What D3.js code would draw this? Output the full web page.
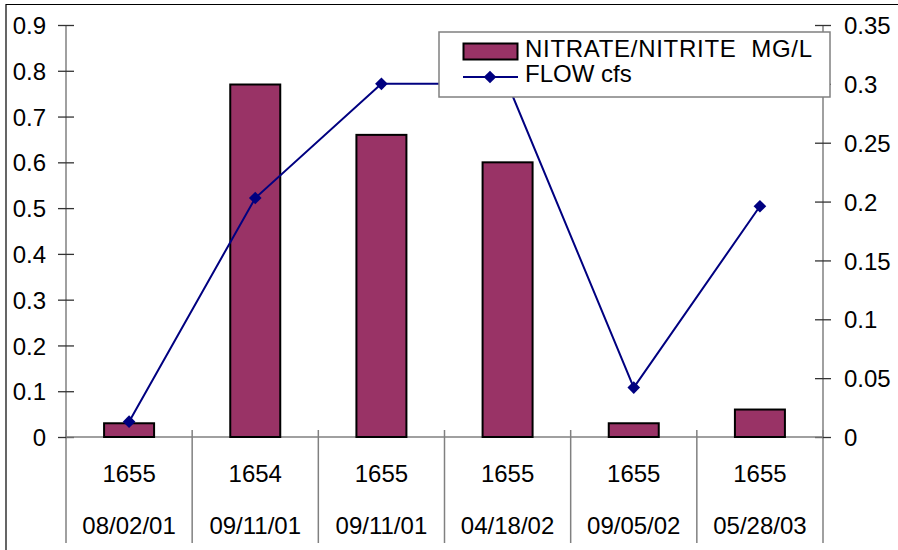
<!DOCTYPE html>
<html><head><meta charset="utf-8">
<script src="https://cdn.jsdelivr.net/npm/d3@7"></script>
<style>body{margin:0;background:#fff}svg{display:block}text{font-family:"Liberation Sans",Arial,sans-serif;fill:#000}</style>
</head><body><svg id="c" width="898" height="550"></svg>
<script>
const sites = ["1655","1654","1655","1655","1655","1655"];
const dates = ["08/02/01","09/11/01","09/11/01","04/18/02","09/05/02","05/28/03"];
const nitrate = [0.03,0.77,0.66,0.60,0.03,0.06];
const flow = [0.013,0.203,0.30,0.30,0.042,0.196];
const leftTicks = [0,0.1,0.2,0.3,0.4,0.5,0.6,0.7,0.8,0.9];
const rightTicks = [0,0.05,0.1,0.15,0.2,0.25,0.3,0.35];
const seriesNames = ["NITRATE/NITRITE  MG/L","FLOW cfs"];

const svg = d3.select("#c");
const L=66, R=823, T=25, B=437;
const idx = d3.range(sites.length);
const x = d3.scaleBand().domain(idx).range([L,R]).paddingInner(0).paddingOuter(0);
const yL = d3.scaleLinear().domain([0,0.9]).range([B,T]);
const yR = d3.scaleLinear().domain([0,0.35]).range([B,T]);

// outer frame (left/top visible)
svg.append("path").attr("d","M6,550 V4.5 H898").attr("fill","none").attr("stroke","#000").attr("stroke-width",1.2);

// category separators
const seps = d3.range(sites.length+1).map(i=> i<sites.length ? x(i) : R);
svg.selectAll("line.sep").data(seps).enter().append("line")
  .attr("x1",d=>d).attr("x2",d=>d).attr("y1",430).attr("y2",543)
  .attr("stroke","#808080").attr("stroke-width",1.5);

// left axis
const gl = svg.append("g").attr("transform",`translate(${L},0)`)
  .call(d3.axisLeft(yL).tickValues(leftTicks).tickFormat(d3.format("")).tickSize(8).tickPadding(12));
gl.select(".domain").attr("stroke","#808080").attr("stroke-width",1.5).attr("d",`M0,${T}V${B}`);
gl.selectAll(".tick line").attr("x2",-8).attr("x1",8).attr("stroke","#333").attr("stroke-width",1.3);
gl.selectAll(".tick text").attr("font-size",24).attr("x",-20).attr("dy","0.36em");

// right axis
const gr = svg.append("g").attr("transform",`translate(${R},0)`)
  .call(d3.axisRight(yR).tickValues(rightTicks).tickFormat(d3.format("")).tickSize(8));
gr.select(".domain").attr("stroke","#808080").attr("stroke-width",1.5).attr("d",`M0,${T}V${B}`);
gr.selectAll(".tick line").attr("x1",-8).attr("x2",8).attr("stroke","#333").attr("stroke-width",1.3);
gr.selectAll(".tick text").attr("font-size",24).attr("x",21).attr("dy","0.36em");

// x axis baseline
svg.append("line").attr("x1",L).attr("x2",R).attr("y1",B).attr("y2",B).attr("stroke","#808080").attr("stroke-width",1.5);

// bars
const bw = 50;
svg.selectAll("rect.bar").data(nitrate).enter().append("rect")
  .attr("x",(d,i)=>x(i)+x.bandwidth()/2-bw/2).attr("width",bw)
  .attr("y",d=>yL(d)).attr("height",d=>B-yL(d))
  .attr("fill","#993366").attr("stroke","#000").attr("stroke-width",2);

// category labels
const g = svg.append("g");
g.selectAll("text.s").data(sites).enter().append("text")
  .attr("x",(d,i)=>x(i)+x.bandwidth()/2).attr("y",482).attr("text-anchor","middle").attr("font-size",24).text(d=>d);
g.selectAll("text.d").data(dates).enter().append("text")
  .attr("x",(d,i)=>x(i)+x.bandwidth()/2).attr("y",534).attr("text-anchor","middle").attr("font-size",24).text(d=>d);

// flow line
const line = d3.line().x((d,i)=>x(i)+x.bandwidth()/2).y(d=>yR(d));
svg.append("path").datum(flow).attr("d",line).attr("fill","none").attr("stroke","#000080").attr("stroke-width",2);
const sym = d3.symbol().type(d3.symbolSquare).size(80);
svg.selectAll("path.m").data(flow).enter().append("path")
  .attr("d",sym).attr("fill","#000080")
  .attr("transform",(d,i)=>`translate(${x(i)+x.bandwidth()/2},${yR(d)}) rotate(45)`);

// legend
const lg = svg.append("g");
lg.append("rect").attr("x",439).attr("y",32).attr("width",391).attr("height",65).attr("fill","#fff").attr("stroke","#808080").attr("stroke-width",1.5);
lg.append("rect").attr("x",463.5).attr("y",43.5).attr("width",54).attr("height",16).attr("fill","#993366").attr("stroke","#000").attr("stroke-width",2);
lg.append("line").attr("x1",463).attr("x2",518).attr("y1",77).attr("y2",77).attr("stroke","#000080").attr("stroke-width",2);
lg.append("path").attr("d",sym).attr("fill","#000080").attr("transform","translate(490,77) rotate(45)");
lg.append("text").attr("x",525).attr("y",57).attr("font-size",24).attr("textLength",287).attr("lengthAdjust","spacing").style("white-space","pre").text(seriesNames[0]);
lg.append("text").attr("x",525).attr("y",82).attr("font-size",24).text(seriesNames[1]);
</script></body></html>
